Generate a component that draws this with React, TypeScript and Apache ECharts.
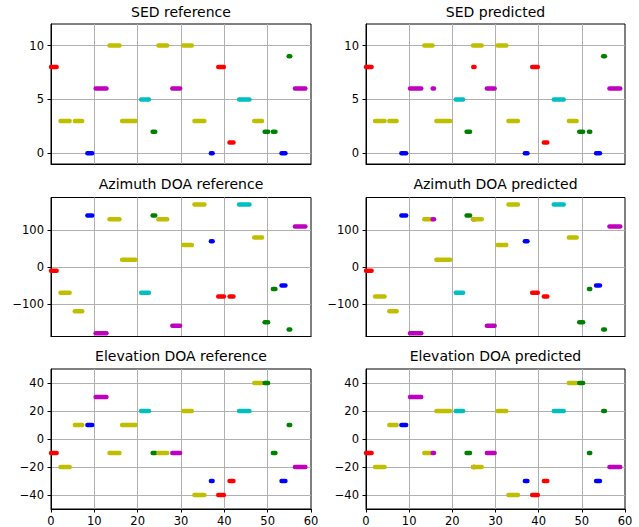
import React, { useEffect, useRef } from 'react';
import * as echarts from 'echarts';

// ---- Tick labels ----
const xTicks = [0, 10, 20, 30, 40, 50, 60];
const sedTicks = [0, 5, 10];
const aziTicks = [-100, 0, 100];
const eleTicks = [-40, -20, 0, 20, 40];

// ---- Reference events ----
const refStart = [0, 2.2, 5.5, 8.4, 10.3, 13.5, 16.4, 20.8, 23.45, 24.8, 28.0, 30.5, 33.1, 36.9, 38.6, 41.2, 43.4, 46.9, 49.3, 51.2, 53.2, 54.85, 56.3];
const refEnd = [1.3, 4.3, 7.2, 9.5, 12.8, 15.8, 19.5, 22.6, 24.05, 26.8, 29.8, 32.5, 35.4, 37.3, 39.9, 42.1, 45.8, 48.7, 50.1, 51.8, 54.1, 55.2, 58.7];
const refClass = [8, 3, 3, 0, 6, 10, 3, 5, 2, 10, 6, 10, 3, 0, 8, 1, 5, 3, 2, 2, 0, 9, 6];
const refAzi = [-10, -70, -120, 140, -180, 130, 20, -70, 140, 130, -160, 60, 170, 70, -80, -80, 170, 80, -150, -60, -50, -170, 110];
const refEle = [-10, -20, 10, 10, 30, -10, 10, 20, -10, -10, -10, 20, -40, -30, -40, -30, 20, 40, 40, -10, -30, 10, -20];

// ---- Predicted events ----
const predStart = [0, 2.1, 5.4, 8.2, 10.2, 13.5, 15.45, 16.3, 20.8, 23.3, 24.85, 24.8, 28.0, 30.5, 33.0, 36.8, 38.5, 41.2, 43.5, 47.0, 49.4, 51.65, 53.3, 54.95, 56.4];
const predEnd = [1.3, 4.3, 7.1, 9.3, 12.8, 15.4, 15.75, 19.5, 22.5, 24.1, 25.15, 26.8, 29.8, 32.5, 35.2, 37.4, 39.8, 42.0, 45.8, 48.8, 50.3, 51.95, 54.2, 55.35, 58.9];
const predClass = [8, 3, 3, 0, 6, 10, 6, 3, 5, 2, 8, 10, 6, 10, 3, 0, 8, 1, 5, 3, 2, 2, 0, 9, 6];
const predAzi = [-10, -80, -120, 140, -180, 130, 130, 20, -70, 140, 130, 130, -160, 60, 170, 70, -70, -80, 170, 80, -150, -60, -50, -170, 110];
const predEle = [-10, -20, 10, 10, 30, -10, -10, 20, 20, -10, -20, -20, -10, 20, -40, -30, -40, -30, 20, 40, 40, -10, -30, 20, -20];

const classColors: Record<number, string> = {
  0: '#0000ff',
  1: '#ff0000',
  2: '#008000',
  3: '#bfbf00',
  5: '#00bfbf',
  6: '#bf00bf',
  8: '#ff0000',
  9: '#008000',
  10: '#bfbf00',
};

const titles = [
  'SED reference',
  'SED predicted',
  'Azimuth DOA reference',
  'Azimuth DOA predicted',
  'Elevation DOA reference',
  'Elevation DOA predicted',
];

const FONT = 'DejaVu Sans';
const fmt = (v: number) => String(v).replace('-', '\u2212');

function buildOption() {
  const gridLefts = [51, 366];
  const gridWidths = [260, 259];
  const gridTops = [24, 197.5, 369];
  const gridHeights = [140, 139, 140];
  const titleTops = [5, 177, 349];
  const yRanges = [
    { min: -1, max: 12, ticks: sedTicks },
    { min: -189, max: 189, ticks: aziTicks },
    { min: -50, max: 50, ticks: eleTicks },
  ];

  const grid: any[] = [];
  const xAxis: any[] = [];
  const yAxis: any[] = [];
  const title: any[] = [];
  const series: any[] = [];

  const sets = [
    { start: refStart, end: refEnd, cls: refClass, vals: [refClass, refAzi, refEle] },
    { start: predStart, end: predEnd, cls: predClass, vals: [predClass, predAzi, predEle] },
  ];

  for (let r = 0; r < 3; r++) {
    for (let c = 0; c < 2; c++) {
      const i = r * 2 + c;
      const bottomRow = r === 2;
      grid.push({
        left: gridLefts[c],
        top: gridTops[r],
        width: gridWidths[c],
        height: gridHeights[r],
        show: true,
        borderColor: '#000',
        borderWidth: 1,
        containLabel: false,
      });
      title.push({
        text: titles[i],
        left: gridLefts[c] + gridWidths[c] / 2,
        top: titleTops[r],
        textAlign: 'center',
        padding: 0,
        textStyle: { fontSize: 14, fontWeight: 'normal', color: '#000', fontFamily: FONT },
      });
      xAxis.push({
        type: 'value',
        gridIndex: i,
        min: 0,
        max: 60,
        interval: 10,
        axisLine: { show: true, onZero: false, lineStyle: { color: '#000', width: 1 } },
        axisTick: { show: bottomRow, length: 3.5, inside: false, lineStyle: { color: '#000' } },
        axisLabel: {
          show: bottomRow,
          customValues: xTicks,
          fontSize: 11.5,
          color: '#000',
          fontFamily: FONT,
          margin: 6,
          formatter: fmt,
        },
        splitLine: { show: true, showMinLine: false, showMaxLine: false, lineStyle: { color: '#b0b0b0', width: 1 } },
      });
      const yr = yRanges[r];
      yAxis.push({
        type: 'value',
        gridIndex: i,
        min: yr.min,
        max: yr.max,
        axisLine: { show: true, onZero: false, lineStyle: { color: '#000', width: 1 } },
        axisTick: { show: true, length: 3.5, inside: false, customValues: yr.ticks, lineStyle: { color: '#000' } },
        axisLabel: {
          customValues: yr.ticks,
          fontSize: 11.5,
          color: '#000',
          fontFamily: FONT,
          margin: 7,
          formatter: fmt,
        },
        splitLine: { show: true, lineStyle: { color: '#b0b0b0', width: 1 } },
      });

      const s = sets[c];
      const yv = s.vals[r];
      for (let k = 0; k < s.start.length; k++) {
        series.push({
          type: 'line',
          xAxisIndex: i,
          yAxisIndex: i,
          data: [
            [s.start[k], yv[k]],
            [s.end[k], yv[k]],
          ],
          showSymbol: false,
          symbol: 'none',
          silent: true,
          clip: true,
          lineStyle: { color: classColors[s.cls[k]], width: 4.5, cap: 'round' },
        });
      }
    }
  }

  return {
    animation: false,
    backgroundColor: '#ffffff',
    title,
    grid,
    xAxis,
    yAxis,
    series,
  };
}

export default function App() {
  const ref = useRef<HTMLDivElement>(null);
  useEffect(() => {
    document.body.style.margin = '0';
    const chart = echarts.init(ref.current!, undefined, { renderer: 'svg' });
    chart.setOption(buildOption() as any);
    return () => chart.dispose();
  }, []);
  return <div ref={ref} style={{ width: 639, height: 527 }} />;
}
